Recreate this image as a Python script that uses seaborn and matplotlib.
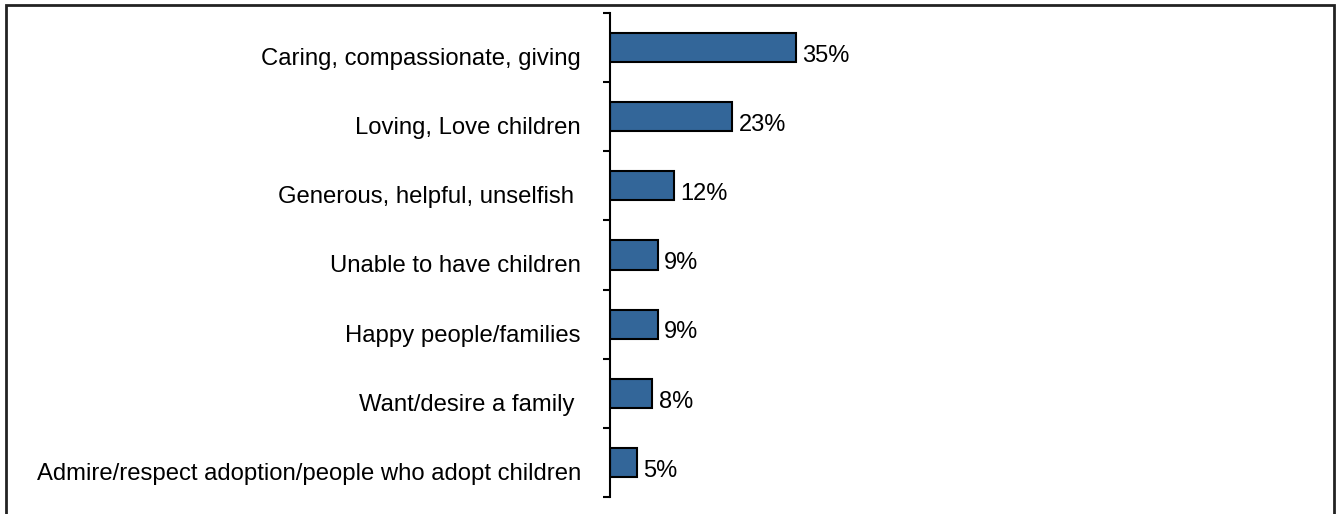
import matplotlib
matplotlib.use("Agg")
import matplotlib.pyplot as plt
import seaborn as sns
import pandas as pd
from matplotlib.patches import Rectangle
from matplotlib.transforms import ScaledTranslation

categories = [
    "Caring, compassionate, giving",
    "Loving, Love children",
    "Generous, helpful, unselfish ",
    "Unable to have children",
    "Happy people/families",
    "Want/desire a family ",
    "Admire/respect adoption/people who adopt children",
]
values = [35, 23, 12, 9, 9, 8, 5]
value_labels = ["35%", "23%", "12%", "9%", "9%", "8%", "5%"]

sns.set_theme(style="white")
plt.rcParams["font.family"] = ["Liberation Sans", "DejaVu Sans"]

df = pd.DataFrame({"category": categories, "value": values})

W, H = 1336, 514
fig = plt.figure(figsize=(W / 100, H / 100), dpi=100)
ax = fig.add_axes([610 / W, (H - 497) / H, 690 / W, 484 / H])

sns.barplot(data=df, x="value", y="category", orient="h", color="#336699",
            saturation=1, width=0.42, edgecolor="black", linewidth=1.5, ax=ax)

ax.set_xlim(0, 130)
ax.set_ylim(6.5, -0.5)
ax.set_xlabel("")
ax.set_ylabel("")
ax.set_xticks([])

for s in ["top", "right", "bottom"]:
    ax.spines[s].set_visible(False)
ax.spines["left"].set_color("black")
ax.spines["left"].set_linewidth(1.5)

ax.set_yticks(range(len(categories)))
ax.set_yticklabels(categories, fontsize=17.2, color="black")
ax.set_yticks([i - 0.5 for i in range(len(categories) + 1)], minor=True)
ax.tick_params(axis="y", which="major", length=0, pad=21)
ax.tick_params(axis="y", which="minor", length=5, width=1.5, color="black",
               direction="out", left=True)

# category labels sit on a baseline a little below each bar's centre
shift = ScaledTranslation(0, -0.175, fig.dpi_scale_trans)
for lab in ax.get_yticklabels():
    lab.set_va("baseline")
    lab.set_transform(lab.get_transform() + shift)

val_shift = ScaledTranslation(0, -0.143, fig.dpi_scale_trans)
for i, (v, lab) in enumerate(zip(values, value_labels)):
    ax.text(v + 1.2, i, lab, va="baseline", ha="left", fontsize=17,
            color="black", transform=ax.transData + val_shift)

fig.patches.append(Rectangle((6 / W, -0.02), (1334 - 6) / W, (H - 5) / H + 0.02,
                             transform=fig.transFigure, fill=False,
                             edgecolor="#222222", linewidth=2))

fig.savefig("out.png", dpi=100)
